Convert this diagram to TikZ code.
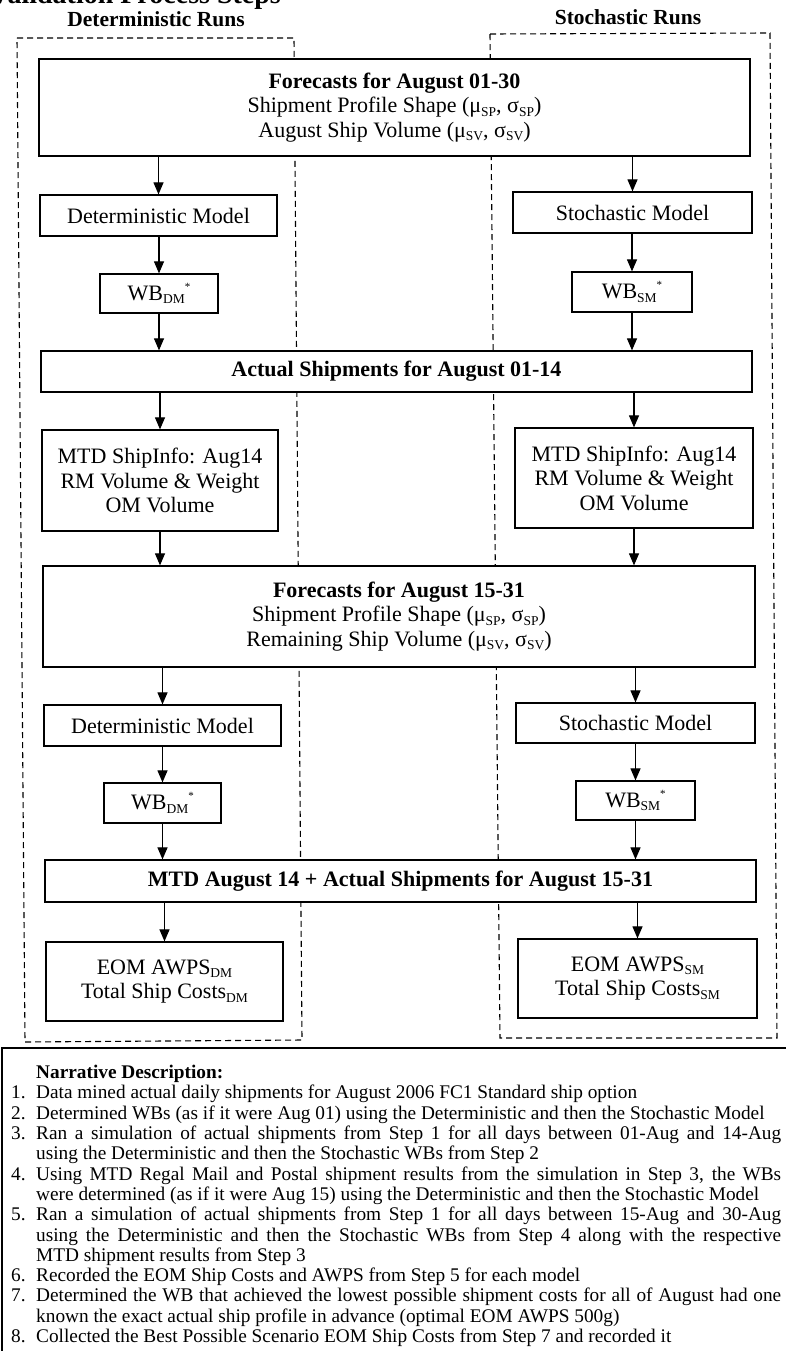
\documentclass[tikz,border=0pt]{standalone}
\usepackage{fontspec}
\setmainfont{Liberation Serif}
\usetikzlibrary{arrows.meta}

% small lowered index and raised star used in the box labels
\newcommand{\lowsub}[1]{\raisebox{-0.35ex}{\fontsize{13.5}{13.5}\selectfont #1}}
\newcommand{\upstar}{\raisebox{1ex}{\fontsize{11}{11}\selectfont *}}
% one numbered step of the narrative list, with hanging indent
\newcommand{\stepitem}[1]{\par\noindent\hangindent=25pt\hangafter=1\makebox[25pt][l]{#1}\ignorespaces}

\tikzset{
  flowbox/.style={draw, fill=white, line width=1.2pt, inner sep=0pt, align=center,
                  font=\fontsize{22}{24.5}\selectfont},
  flowarrow/.style={line width=1.1pt, -{Triangle[length=12pt,width=10pt]}},
  runframe/.style={line width=1.1pt, dash pattern=on 6pt off 4pt},
  headlabel/.style={inner sep=0pt, font=\fontsize{21.5}{24}\selectfont\bfseries},
}

\begin{document}
\begin{tikzpicture}[x=1pt, y=-1pt]
\useasboundingbox (0,0) rectangle (785,1351);

% title (runs off the top of the page)
\node[anchor=base east, inner sep=0pt, font=\fontsize{28}{30}\selectfont\bfseries] (title) at (281,4) {Validation Process Steps};

% column headings
\node[headlabel, anchor=base] (detrun) at (156,27) {Deterministic Runs};
\node[headlabel, anchor=base] (stochrun) at (628,25) {Stochastic Runs};

% dashed frames around the two columns
\draw[runframe] (17,38) -- (294,38) -- (302,1040) -- (25,1042) -- cycle;
\draw[runframe] (490,34) -- (770,33) -- (777,1038) -- (500,1038) -- cycle;

% ---- first forecast stage
\node[flowbox, minimum width=711pt, minimum height=97pt] (fc1) at (394.5,107.5)
  {\textbf{Forecasts for August 01-30}\\Shipment Profile Shape (μ\lowsub{SP}, σ\lowsub{SP})\\August Ship Volume (μ\lowsub{SV}, σ\lowsub{SV})};

\node[flowbox, minimum width=237pt, minimum height=41pt] (dm1) at (158.5,215.5) {Deterministic Model};
\node[flowbox, minimum width=118pt, minimum height=39pt] (wbd1) at (159,293.5) {WB\lowsub{DM}\upstar};
\node[flowbox, minimum width=239pt, minimum height=41pt] (sm1) at (632.5,212.5) {Stochastic Model};
\node[flowbox, minimum width=120pt, minimum height=40pt] (wbs1) at (632,292) {WB\lowsub{SM}\upstar};

% ---- actual shipments, first half
\node[flowbox, minimum width=711pt, minimum height=41pt] (act1) at (396.5,371.5) {\textbf{Actual Shipments for August 01-14}};

\node[flowbox, minimum width=236pt, minimum height=101pt] (mtdl) at (160,480.5)
  {MTD ShipInfo: Aug14\\RM Volume \& Weight\\OM Volume};
\node[flowbox, minimum width=238pt, minimum height=100pt] (mtdr) at (634,478)
  {MTD ShipInfo: Aug14\\RM Volume \& Weight\\OM Volume};

% ---- second forecast stage
\node[flowbox, minimum width=712pt, minimum height=101pt] (fc2) at (399,616.5)
  {\textbf{Forecasts for August 15-31}\\Shipment Profile Shape (μ\lowsub{SP}, σ\lowsub{SP})\\Remaining Ship Volume (μ\lowsub{SV}, σ\lowsub{SV})};

\node[flowbox, minimum width=237pt, minimum height=41pt] (dm2) at (162.5,725.5) {Deterministic Model};
\node[flowbox, minimum width=117pt, minimum height=40pt] (wbd2) at (162.5,803) {WB\lowsub{DM}\upstar};
\node[flowbox, minimum width=239pt, minimum height=40pt] (sm2) at (635.5,723) {Stochastic Model};
\node[flowbox, minimum width=119pt, minimum height=39pt] (wbs2) at (635.5,800.5) {WB\lowsub{SM}\upstar};

% ---- month-to-date plus second half
\node[flowbox, minimum width=711pt, minimum height=42pt] (act2) at (400.5,881)
  {\textbf{MTD August 14 + Actual Shipments for August 15-31}};

\node[flowbox, minimum width=237pt, minimum height=79pt] (eoml) at (164.5,981.5)
  {EOM AWPS\lowsub{DM}\\Total Ship Costs\lowsub{DM}};
\node[flowbox, minimum width=239pt, minimum height=79pt] (eomr) at (637.5,978.5)
  {EOM AWPS\lowsub{SM}\\Total Ship Costs\lowsub{SM}};

% ---- connectors, deterministic column
\draw[flowarrow] (dm1.north |- fc1.south) -- (dm1.north);
\draw[flowarrow] (wbd1.north |- dm1.south) -- (wbd1.north);
\draw[flowarrow] (wbd1.south) -- (wbd1.south |- act1.north);
\draw[flowarrow] (mtdl.north |- act1.south) -- (mtdl.north);
\draw[flowarrow] (mtdl.south) -- (mtdl.south |- fc2.north);
\draw[flowarrow] (dm2.north |- fc2.south) -- (dm2.north);
\draw[flowarrow] (wbd2.north |- dm2.south) -- (wbd2.north);
\draw[flowarrow] (wbd2.south) -- (wbd2.south |- act2.north);
\draw[flowarrow] (eoml.north |- act2.south) -- (eoml.north);

% ---- connectors, stochastic column
\draw[flowarrow] (sm1.north |- fc1.south) -- (sm1.north);
\draw[flowarrow] (wbs1.north |- sm1.south) -- (wbs1.north);
\draw[flowarrow] (wbs1.south) -- (wbs1.south |- act1.north);
\draw[flowarrow] (mtdr.north |- act1.south) -- (mtdr.north);
\draw[flowarrow] (mtdr.south) -- (mtdr.south |- fc2.north);
\draw[flowarrow] (sm2.north |- fc2.south) -- (sm2.north);
\draw[flowarrow] (wbs2.north |- sm2.south) -- (wbs2.north);
\draw[flowarrow] (wbs2.south) -- (wbs2.south |- act2.north);
\draw[flowarrow] (eomr.north |- act2.south) -- (eomr.north);

% ---- narrative panel
\draw[line width=1.6pt] (2,1360) -- (2,1048) -- (795,1048);
\node[anchor=north west, inner sep=0pt] (notes) at (11,1065) {%
  \parbox{770pt}{\fontsize{19.3}{20.3}\selectfont\tolerance=10000\parskip=0pt
  \noindent\hspace*{25pt}\textbf{Narrative Description:}
  \stepitem{1.}Data mined actual daily shipments for August 2006 FC1 Standard ship option
  \stepitem{2.}Determined WBs (as if it were Aug 01) using the Deterministic and then the Stochastic Model
  \stepitem{3.}Ran a simulation of actual shipments from Step 1 for all days between 01-Aug and 14-Aug\linebreak
  using the Deterministic and then the Stochastic WBs from Step 2
  \stepitem{4.}Using MTD Regal Mail and Postal shipment results from the simulation in Step 3, the WBs\linebreak
  were determined (as if it were Aug 15) using the Deterministic and then the Stochastic Model
  \stepitem{5.}Ran a simulation of actual shipments from Step 1 for all days between 15-Aug and 30-Aug\linebreak
  using the Deterministic and then the Stochastic WBs from Step 4 along with the respective\linebreak
  MTD shipment results from Step 3
  \stepitem{6.}Recorded the EOM Ship Costs and AWPS from Step 5 for each model
  \stepitem{7.}Determined the WB that achieved the lowest possible shipment costs for all of August had one\linebreak
  known the exact actual ship profile in advance (optimal EOM AWPS 500g)
  \stepitem{8.}Collected the Best Possible Scenario EOM Ship Costs from Step 7 and recorded it\par}};

\end{tikzpicture}
\end{document}
